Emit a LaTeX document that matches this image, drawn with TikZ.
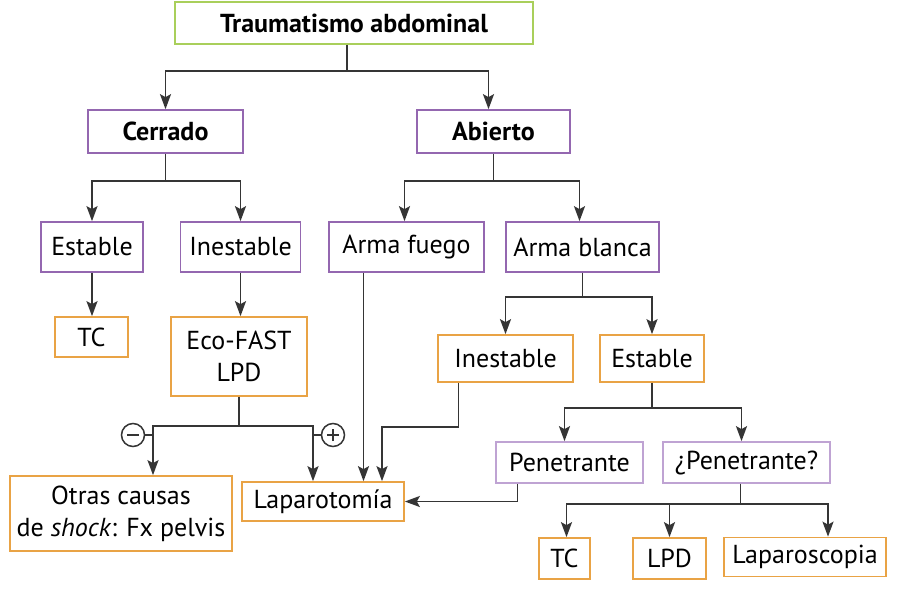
\documentclass[tikz,border=0pt]{standalone}
\usepackage{fontspec}
\setmainfont{PT Sans}
\usetikzlibrary{arrows.meta,positioning}
\definecolor{tGreen}{HTML}{A9CF5B}
\definecolor{tPurple}{HTML}{9467B0}
\definecolor{tLilac}{HTML}{BFA3D3}
\definecolor{tOrange}{HTML}{E9A345}
\definecolor{tLine}{HTML}{353535}

\begin{document}
\begin{tikzpicture}[x=1pt, y=-1pt,
     box/.style={draw, line width=1.7pt, fill=white, inner sep=0pt, align=center,
                 font=\fontsize{26}{32}\selectfont, text=black},
     wh/.style 2 args={minimum width=#1pt, minimum height=#2pt},
     root/.style={box, draw=tGreen, font=\fontsize{26}{32}\selectfont\bfseries},
     cls/.style={box, draw=tPurple},
     sub/.style={box, draw=tLilac},
     act/.style={box, draw=tOrange},
     sign/.style={circle, draw=tLine, line width=1.5pt, minimum size=23pt, inner sep=0pt},
     link/.style={line width=1.8pt, draw=tLine},
     arr/.style={link, -{Stealth[length=15pt, width=11pt, inset=3pt]}}]
  \fill[white] (0,0) rectangle (899,597);
  \useasboundingbox (0,0) rectangle (899,597);
  % top levels
  \node[root, wh={358}{42}] (trauma) at (354,23) {Traumatismo abdominal};
  \node[cls, wh={155}{43}, font=\fontsize{26}{32}\selectfont\bfseries] (cerrado) at (165.5,131.5) {Cerrado};
  \node[cls, wh={153}{43}, font=\fontsize{26}{32}\selectfont\bfseries] (abierto) at (493.5,131.5) {Abierto};
  \node[cls, wh={102}{50}] (estA) at (92,247) {Estable};
  \node[cls, wh={120}{50}] (inestA) at (240.5,247) {Inestable};
  \node[cls, wh={155}{50}] (fuego) at (406.5,247) {Arma fuego};
  \node[cls, wh={153}{50}] (blanca) at (582.5,247) {Arma blanca};
  % closed branch
  \node[act, wh={73}{40}] (tcA) at (91.5,337) {TC};
  \node[act, wh={136}{79}] (eco) at (239,356.5) {Eco-FAST\\LPD};
  \node[act, wh={222}{75}] (otras) at (121,513.5) {Otras causas\\de \textit{shock}: Fx pelvis};
  \node[act, wh={162}{39}] (lap) at (323,501.5) {Laparotomía};
  \node[sign] (minus) at (133,435) {};
  \node[sign] (plus) at (333,435) {};
  % open branch
  \node[act, wh={135}{47}] (inestB) at (505.5,358.5) {Inestable};
  \node[act, wh={104}{47}] (estB) at (652,358.5) {Estable};
  \node[sub, wh={147}{41}] (pen) at (569.5,462.5) {Penetrante};
  \node[sub, wh={167}{41}] (penq) at (746.5,462.5) {¿Penetrante?};
  \node[act, wh={51}{41}] (tcB) at (564.5,558.5) {TC};
  \node[act, wh={73}{41}] (lpd) at (669.5,558.5) {LPD};
  \node[act, wh={162}{39}] (lapsc) at (805,557) {Laparoscopia};
  % connectors
  \draw[arr] ([xshift=-7pt]trauma.south) -- ++(0,26) -| (cerrado.north);
  \draw[arr] ([xshift=-7pt]trauma.south) -- ++(0,26) -| ([xshift=-5pt]abierto.north);
  \draw[arr] (cerrado.south) -- ++(0,27) -| (estA.north);
  \draw[arr] (cerrado.south) -- ++(0,27) -| (inestA.north);
  \draw[arr] (abierto.south) -- ++(0,27) -| ([xshift=-2pt]fuego.north);
  \draw[arr] (abierto.south) -- ++(0,27) -| ([xshift=-3pt]blanca.north);
  \draw[arr] (estA.south) -- (estA.south |- tcA.north);
  \draw[arr] (inestA.south) -- (inestA.south |- eco.north);
  \draw[arr] (eco.south) -- ++(0,29) -| ([xshift=32pt]otras.north);
  \draw[arr] (eco.south) -- ++(0,29) -| ([xshift=-10pt]lap.north);
  \draw[link] (minus.east) -- ++(8,0);
  \draw[link] (plus.west) -- ++(-8,0);
  \draw[line width=1.5pt, draw=tLine] ([xshift=-6pt]minus.center) -- ([xshift=6pt]minus.center);
  \draw[line width=1.5pt, draw=tLine] ([xshift=-6pt]plus.center) -- ([xshift=6pt]plus.center)
    ([yshift=-6pt]plus.center) -- ([yshift=6pt]plus.center);
  \draw[arr] ([xshift=-43pt]fuego.south) -- ([xshift=-43pt]fuego.south |- lap.north);
  \draw[arr] (blanca.south) -- ++(0,24) -| (inestB.north);
  \draw[arr] (blanca.south) -- ++(0,24) -| (estB.north);
  \draw[arr] ([xshift=-47pt]inestB.south) -- ++(0,44) -| ([xshift=59pt]lap.north);
  \draw[arr] (estB.south) -- ++(0,25) -| ([xshift=-5pt]pen.north);
  \draw[arr] (estB.south) -- ++(0,25) -| ([xshift=-5pt]penq.north);
  \draw[arr] ([xshift=-52pt]pen.south) |- (lap.east);
  \draw[arr] ([xshift=-6pt]penq.south) -- ++(0,20) -| ([xshift=2pt]tcB.north);
  \draw[arr] ([xshift=-6pt]penq.south) -- ++(0,20) -| (lpd.north);
  \draw[arr] ([xshift=-6pt]penq.south) -- ++(0,20) -| ([xshift=23pt]lapsc.north);
\end{tikzpicture}
\end{document}
